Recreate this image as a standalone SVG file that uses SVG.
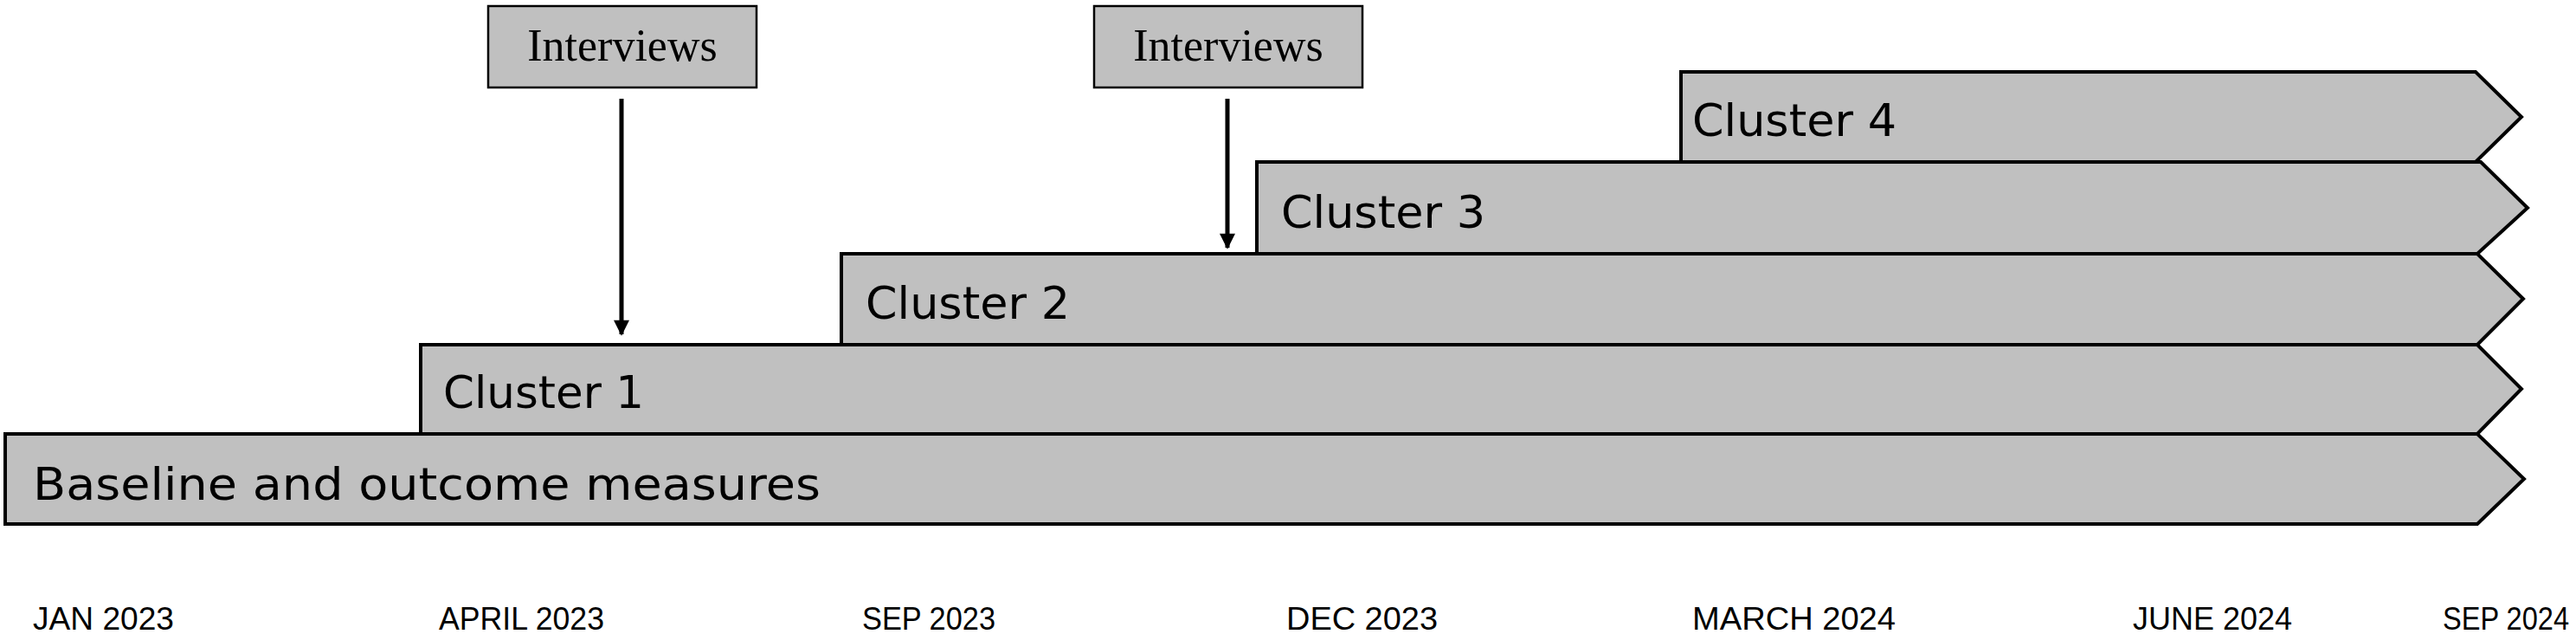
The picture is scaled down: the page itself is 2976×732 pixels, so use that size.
<svg xmlns="http://www.w3.org/2000/svg" width="2976" height="732" viewBox="0 0 2976 732">
<style>
.bar{fill:#c0c0c0;stroke:#000;stroke-width:4;stroke-linejoin:miter}
.box{fill:#c0c0c0;stroke:#000;stroke-width:2.5}
.lbl{font-family:"DejaVu Sans",sans-serif;font-size:52px;fill:#000}
.iv{font-family:"Liberation Serif",serif;font-size:52px;fill:#000}
.dt{font-family:"Liberation Sans",sans-serif;font-size:36px;fill:#000}
.arr{stroke:#000;stroke-width:5;fill:none}
</style>
<defs><marker id="ah" viewBox="0 0 10 10" refX="9" refY="5" markerWidth="5" markerHeight="3.6" orient="auto" markerUnits="strokeWidth"><path d="M0,0 L10,5 L0,10 z" fill="#000"/></marker></defs>
<g id="baseline"><polygon class="bar" points="6,501 2862,501 2916,553 2862,605 6,605"/><text class="lbl" x="38" y="577" textLength="910" lengthAdjust="spacingAndGlyphs">Baseline and outcome measures</text></g>
<g id="cluster1"><polygon class="bar" points="486,398 2862,398 2913,449 2862,501 486,501"/><text class="lbl" x="512" y="471" textLength="232" lengthAdjust="spacingAndGlyphs">Cluster 1</text></g>
<g id="cluster2"><polygon class="bar" points="972,293 2862,293 2915,345 2862,398 972,398"/><text class="lbl" x="1000" y="368" textLength="236" lengthAdjust="spacingAndGlyphs">Cluster 2</text></g>
<g id="cluster3"><polygon class="bar" points="1452,187 2866,187 2920,240 2862,293 1452,293"/><text class="lbl" x="1480" y="263" textLength="236" lengthAdjust="spacingAndGlyphs">Cluster 3</text></g>
<g id="cluster4"><polygon class="bar" points="1942,83 2860,83 2913,135 2860,187 1942,187"/><text class="lbl" x="1955" y="157" textLength="236" lengthAdjust="spacingAndGlyphs">Cluster 4</text></g>
<g id="interviews1"><rect class="box" x="564" y="7" width="310" height="94"/><text class="iv" x="719" y="70" text-anchor="middle">Interviews</text></g>
<g id="interviews2"><rect class="box" x="1264" y="7" width="310" height="94"/><text class="iv" x="1419" y="70" text-anchor="middle">Interviews</text></g>
<g id="connectors">
<line class="arr" x1="718" y1="114" x2="718" y2="386" marker-end="url(#ah)"/>
<line class="arr" x1="1418" y1="114" x2="1418" y2="286" marker-end="url(#ah)"/>
</g>
<g id="axis">
<text class="dt" x="38" y="727" textLength="163" lengthAdjust="spacingAndGlyphs">JAN 2023</text>
<text class="dt" x="507" y="727" textLength="191" lengthAdjust="spacingAndGlyphs">APRIL 2023</text>
<text class="dt" x="996" y="727" textLength="154" lengthAdjust="spacingAndGlyphs">SEP 2023</text>
<text class="dt" x="1486" y="727" textLength="175" lengthAdjust="spacingAndGlyphs">DEC 2023</text>
<text class="dt" x="1955" y="727" textLength="235" lengthAdjust="spacingAndGlyphs">MARCH 2024</text>
<text class="dt" x="2464" y="727" textLength="184" lengthAdjust="spacingAndGlyphs">JUNE 2024</text>
<text class="dt" x="2822" y="727" textLength="146" lengthAdjust="spacingAndGlyphs">SEP 2024</text>
</g>
</svg>
